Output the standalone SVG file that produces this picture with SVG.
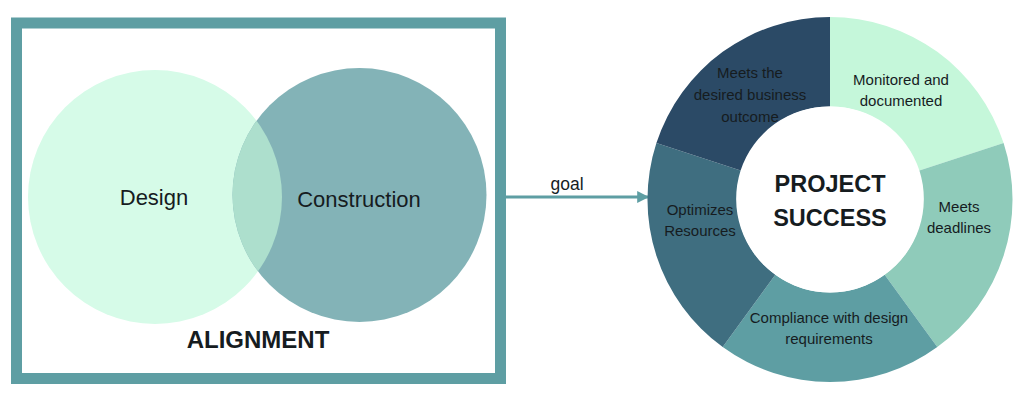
<svg xmlns="http://www.w3.org/2000/svg" width="1024" height="400" viewBox="0 0 1024 400">
<defs>
<style>
text{font-family:"Liberation Sans",Arial,sans-serif;fill:#161c1f;text-anchor:middle}
.big{font-size:22px}
.seg{font-size:15px}
.bold{font-weight:bold}
</style>
<marker id="ah" viewBox="0 0 10 10" refX="9" refY="5" markerWidth="4" markerHeight="4" orient="auto" markerUnits="strokeWidth">
<path d="M0,0 L10,5 L0,10 z" fill="#5e9ea3"/>
</marker>
<clipPath id="rc"><circle cx="359.5" cy="195" r="127"/></clipPath>
</defs>
<rect width="1024" height="400" fill="#fff"/>
<g id="alignment">
<rect x="16.5" y="23" width="484" height="355.5" fill="#fff" stroke="#5e9ea3" stroke-width="11"/>
<text class="bold" x="258" y="348" font-size="24">ALIGNMENT</text>
</g>
<g id="design">
<circle cx="155" cy="197" r="127" fill="#d6fbe8"/>
</g>
<g id="construction">
<circle cx="359.5" cy="195" r="127" fill="#83b3b7"/>
<circle cx="155" cy="197" r="127" fill="#addfcd" clip-path="url(#rc)"/>
<text class="big" x="359" y="207">Construction</text>
</g>
<text class="big" x="154" y="205">Design</text>
<g id="connectors">
<line x1="506" y1="197" x2="648" y2="197" stroke="#5e9ea3" stroke-width="3" marker-end="url(#ah)"/>
<text x="567" y="190" font-size="17.5">goal</text>
</g>
<g id="donut">
<g id="seg-monitored">
<path d="M830,17 A182.5,182.5 0 0 1 1003.6,143.1 L919.4,170.5 A93,93 0 0 0 830,106.5 Z" fill="#c5f7da"/>
<text class="seg" x="901" y="85">Monitored and</text>
<text class="seg" x="901" y="106">documented</text>
</g>
<g id="seg-deadlines">
<path d="M1003.6,143.1 A182.5,182.5 0 0 1 937.3,347.1 L884.7,274.7 A93,93 0 0 0 919.4,170.5 Z" fill="#8fcbba"/>
<text class="seg" x="959" y="212">Meets</text>
<text class="seg" x="959" y="233">deadlines</text>
</g>
<g id="seg-compliance">
<path d="M937.3,347.1 A182.5,182.5 0 0 1 722.7,347.1 L775.3,274.7 A93,93 0 0 0 884.7,274.7 Z" fill="#5e9ea3"/>
<text class="seg" x="829" y="323">Compliance with design</text>
<text class="seg" x="829" y="344">requirements</text>
</g>
<g id="seg-optimizes">
<path d="M722.7,347.1 A182.5,182.5 0 0 1 656.4,143.1 L740.6,170.5 A93,93 0 0 0 775.3,274.7 Z" fill="#3f6e80"/>
<text class="seg" x="700" y="215">Optimizes</text>
<text class="seg" x="700" y="236">Resources</text>
</g>
<g id="seg-outcome">
<path d="M656.4,143.1 A182.5,182.5 0 0 1 830,17 L830,106.5 A93,93 0 0 0 740.6,170.5 Z" fill="#2b4a66"/>
<text class="seg" x="750" y="78">Meets the</text>
<text class="seg" x="750" y="100">desired business</text>
<text class="seg" x="750" y="122">outcome</text>
</g>
<g id="center">
<circle cx="830" cy="199.5" r="93" fill="#fff"/>
<text class="bold" x="830" y="192" font-size="23.5">PROJECT</text>
<text class="bold" x="830" y="226" font-size="23.5">SUCCESS</text>
</g>
</g>
</svg>
